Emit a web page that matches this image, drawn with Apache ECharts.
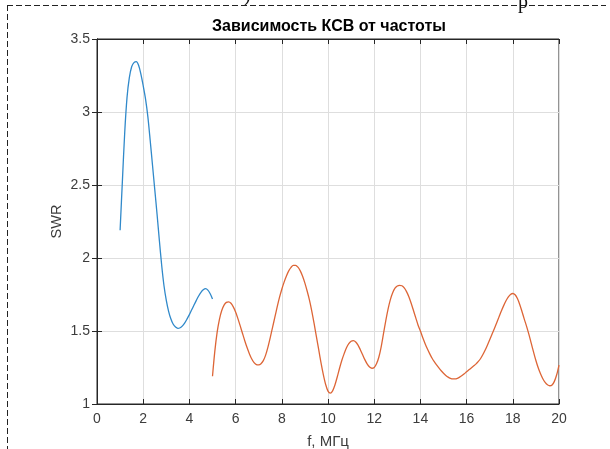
<!DOCTYPE html>
<html>
<head>
<meta charset="utf-8">
<script src="https://cdn.jsdelivr.net/npm/echarts@6/dist/echarts.min.js"></script>
<style>
  html, body { margin: 0; padding: 0; background: #fff; }
  #chart { width: 610px; height: 449px; }
</style>
</head>
<body>
<div id="chart"></div>
<script>
// Band 1 sweep: frequency (MHz) and measured SWR
const freqBand1 = [1.0, 1.1, 1.2, 1.3, 1.4, 1.5, 1.6, 1.7, 1.8, 1.9, 2.0, 2.1, 2.2, 2.3, 2.4, 2.5, 2.6, 2.7, 2.8, 2.9, 3.0, 3.1, 3.2, 3.3, 3.4, 3.5, 3.6, 3.7, 3.8, 3.9, 4.0, 4.1, 4.2, 4.3, 4.4, 4.5, 4.6, 4.7, 4.8, 4.9, 5.0];
const swrBand1  = [2.19, 2.53, 2.86, 3.10, 3.235, 3.31, 3.338, 3.345, 3.32, 3.26, 3.18, 3.09, 2.97, 2.81, 2.64, 2.47, 2.30, 2.12, 1.95, 1.81, 1.71, 1.635, 1.582, 1.546, 1.527, 1.518, 1.522, 1.535, 1.556, 1.583, 1.612, 1.645, 1.678, 1.71, 1.74, 1.765, 1.782, 1.79, 1.78, 1.755, 1.72];

// Band 2 sweep: frequency (MHz) and measured SWR
const freqBand2 = [
  5.0, 5.1, 5.2, 5.3, 5.4, 5.5, 5.6, 5.7, 5.8, 5.9,
  6.0, 6.1, 6.2, 6.3, 6.4, 6.5, 6.6, 6.7, 6.8, 6.9,
  7.0, 7.1, 7.2, 7.3, 7.4, 7.5, 7.6, 7.7, 7.8, 7.9,
  8.0, 8.1, 8.2, 8.3, 8.4, 8.5, 8.6, 8.7, 8.8, 8.9,
  9.0, 9.1, 9.2, 9.3, 9.4, 9.5, 9.6, 9.7, 9.8, 9.9,
  10.0, 10.1, 10.2, 10.3, 10.4, 10.5, 10.6, 10.7, 10.8, 10.9,
  11.0, 11.1, 11.2, 11.3, 11.4, 11.5, 11.6, 11.7, 11.8, 11.9,
  12.0, 12.1, 12.2, 12.3, 12.4, 12.5, 12.6, 12.7, 12.8, 12.9,
  13.0, 13.1, 13.2, 13.3, 13.4, 13.5, 13.6, 13.7, 13.8, 13.9,
  14.0, 14.1, 14.2, 14.3, 14.4, 14.5, 14.6, 14.7, 14.8, 14.9,
  15.0, 15.1, 15.2, 15.3, 15.4, 15.5, 15.6, 15.7, 15.8, 15.9,
  16.0, 16.1, 16.2, 16.3, 16.4, 16.5, 16.6, 16.7, 16.8, 16.9,
  17.0, 17.1, 17.2, 17.3, 17.4, 17.5, 17.6, 17.7, 17.8, 17.9,
  18.0, 18.1, 18.2, 18.3, 18.4, 18.5, 18.6, 18.7, 18.8, 18.9,
  19.0, 19.1, 19.2, 19.3, 19.4, 19.5, 19.6, 19.7, 19.8, 19.9,
  20.0
];
const swrBand2 = [
  1.19, 1.36, 1.49, 1.58, 1.64, 1.677, 1.696, 1.700, 1.690, 1.665,
  1.630, 1.585, 1.535, 1.483, 1.432, 1.385, 1.343, 1.308, 1.283, 1.270,
  1.268, 1.276, 1.297, 1.335, 1.39, 1.455, 1.525, 1.595, 1.665, 1.730,
  1.786, 1.835, 1.877, 1.912, 1.936, 1.950, 1.950, 1.937, 1.912, 1.875,
  1.828, 1.772, 1.71, 1.635, 1.55, 1.46, 1.37, 1.28, 1.20, 1.133,
  1.088, 1.075, 1.09, 1.13, 1.185, 1.245, 1.30, 1.345, 1.385, 1.413,
  1.430, 1.434, 1.425, 1.403, 1.372, 1.337, 1.302, 1.273, 1.254, 1.245,
  1.250, 1.275, 1.320, 1.39, 1.48, 1.57, 1.65, 1.715, 1.762, 1.793,
  1.808, 1.812, 1.81, 1.795, 1.77, 1.735, 1.69, 1.64, 1.59, 1.54,
  1.50, 1.455, 1.415, 1.378, 1.345, 1.315, 1.29, 1.268, 1.247, 1.228,
  1.211, 1.196, 1.184, 1.176, 1.172, 1.172, 1.176, 1.184, 1.195, 1.207,
  1.221, 1.234, 1.247, 1.26, 1.273, 1.29, 1.31, 1.337, 1.368, 1.403,
  1.44, 1.478, 1.515, 1.555, 1.595, 1.635, 1.672, 1.705, 1.732, 1.750,
  1.757, 1.748, 1.722, 1.682, 1.632, 1.58, 1.53, 1.475, 1.415, 1.355,
  1.298, 1.248, 1.207, 1.173, 1.148, 1.132, 1.125, 1.13, 1.155, 1.20,
  1.267
];

const chartTitle = 'Зависимость КСВ от частоты';
const xAxisName = 'f, МГц';
const yAxisName = 'SWR';

const pairs = (xs, ys) => xs.map((x, i) => [x, ys[i]]);

const axisColor = '#262626';
const labelColor = '#3c3c3c';
const gridColor = '#dedede';
const fontFamily = '"Liberation Sans", Arial, Helvetica, sans-serif';

const chart = echarts.init(document.getElementById('chart'), null, { renderer: 'canvas' });

const tickStyle = { show: true, inside: true, length: 5, lineStyle: { color: axisColor, width: 1 } };

chart.setOption({
  backgroundColor: '#ffffff',
  animation: false,
  title: {
    text: chartTitle,
    left: 324,
    top: 14,
    textAlign: 'center',
    textStyle: { fontFamily, fontSize: 16, fontWeight: 'bold', color: '#000' }
  },
  grid: {
    left: 97, right: 51, top: 39, bottom: 45,
    outerBoundsMode: 'none',
    containLabel: false,
    show: true, borderColor: axisColor, borderWidth: 1, backgroundColor: '#fff'
  },
  xAxis: [
    {
      type: 'value', min: 0, max: 20, interval: 2,
      name: xAxisName, nameLocation: 'middle', nameGap: 30, nameMoveOverlap: false,
      nameTextStyle: { fontFamily, fontSize: 15, color: labelColor },
      axisLine: { show: true, lineStyle: { color: axisColor, width: 1 } },
      axisTick: tickStyle,
      axisLabel: { fontFamily, fontSize: 14, color: labelColor, margin: 8 },
      splitLine: { show: true, lineStyle: { color: gridColor, width: 1 } }
    },
    {
      type: 'value', min: 0, max: 20, interval: 2, position: 'top',
      axisLine: { show: true, lineStyle: { color: axisColor, width: 1 } },
      axisTick: tickStyle,
      axisLabel: { show: false },
      splitLine: { show: false }
    }
  ],
  yAxis: [
    {
      type: 'value', min: 1, max: 3.5, interval: 0.5,
      name: yAxisName, nameLocation: 'middle', nameGap: 33, nameRotate: 90, nameMoveOverlap: false,
      nameTextStyle: { fontFamily, fontSize: 14.5, color: labelColor },
      axisLine: { show: true, lineStyle: { color: axisColor, width: 1 } },
      axisTick: tickStyle,
      axisLabel: { fontFamily, fontSize: 14, color: labelColor, margin: 7 },
      splitLine: { show: true, lineStyle: { color: gridColor, width: 1 } }
    },
    {
      type: 'value', min: 1, max: 3.5, interval: 0.5, position: 'right',
      axisLine: { show: true, lineStyle: { color: axisColor, width: 1 } },
      axisTick: tickStyle,
      axisLabel: { show: false },
      splitLine: { show: false }
    }
  ],
  series: [
    {
      type: 'line', name: 'band1', data: pairs(freqBand1, swrBand1),
      smooth: 0.3, showSymbol: false, clip: true,
      lineStyle: { color: '#3089ca', width: 1.3 }
    },
    {
      type: 'line', name: 'band2', data: pairs(freqBand2, swrBand2),
      smooth: 0.3, showSymbol: false, clip: true,
      lineStyle: { color: '#dd6536', width: 1.3 }
    }
  ],
  graphic: [
    // dashed page frame around the figure
    { type: 'line', shape: { x1: 7, y1: 5.5, x2: 606, y2: 5.5 }, style: { stroke: '#222', lineWidth: 1, lineDash: [6, 3] } },
    { type: 'line', shape: { x1: 7.5, y1: 5, x2: 7.5, y2: 449 }, style: { stroke: '#222', lineWidth: 1, lineDash: [6, 3] } },
    // clipped glyphs of the page text above the frame
    { type: 'text', x: 244, y: 6, style: { text: ')', font: '20px "Liberation Serif", serif', fill: '#111', verticalAlign: 'bottom' } },
    { type: 'text', x: 518, y: 13, style: { text: 'р', font: '20px "Liberation Serif", serif', fill: '#111', verticalAlign: 'bottom' } }
  ]
});
</script>
</body>
</html>
